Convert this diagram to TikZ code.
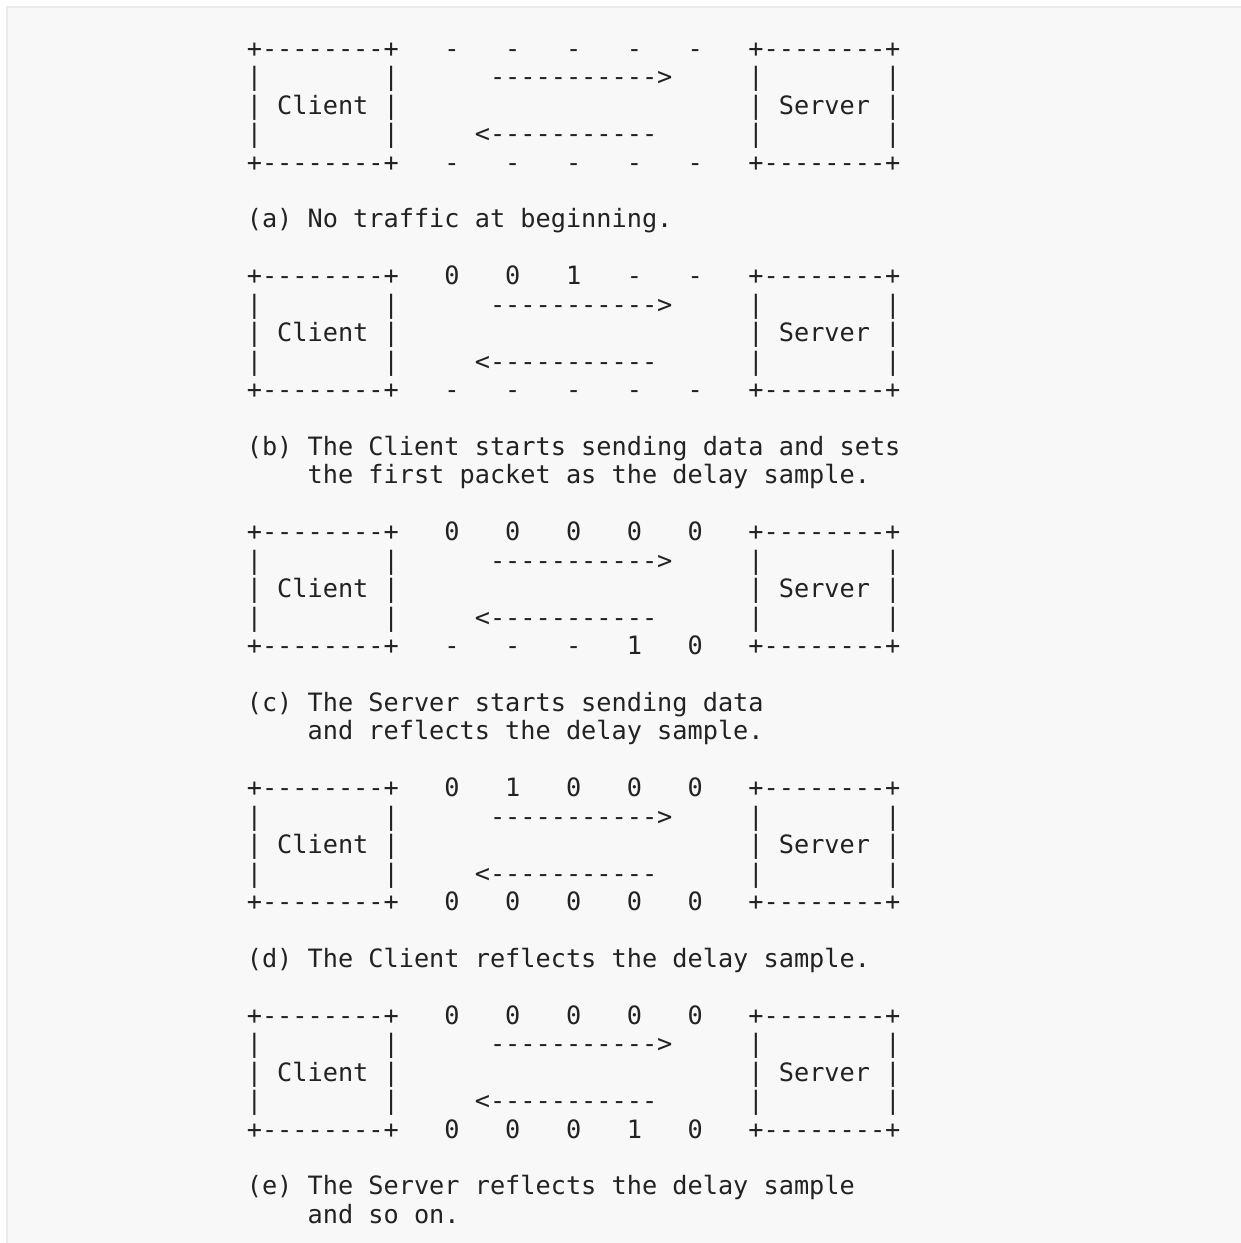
\documentclass[tikz,border=0pt]{standalone}
\usepackage{fontspec}
\setmonofont{DejaVu Sans Mono}
\definecolor{ink}{HTML}{222222}
\definecolor{panel}{HTML}{F8F8F8}
\definecolor{panelborder}{HTML}{EBEBEB}
\newcommand\asciirow[4]{\node[ascii] (#1) at ({246.8+#3*15.2},{57.3+#2*28.44}) {#4};}
\begin{document}
\begin{tikzpicture}[x=1pt,y=-1pt,
  ascii/.style={anchor=base west, inner sep=0pt, outer sep=0pt, text=ink,
    font=\ttfamily\fontsize{25.25}{28.44}\selectfont}]
\useasboundingbox (0,0) rectangle (1241,1243);
\fill[white] (0,0) rectangle (1241,1243);
\draw[panelborder, line width=2pt, fill=panel] (7,7) rectangle (1260,1260);
\frenchspacing
% (a)
\asciirow{a0}{0}{0}{+--------+~~~-~~~-~~~-~~~-~~~-~~~+--------+}
\asciirow{a1}{1}{0}{|~~~~~~~~|~~~~~~----------->~~~~~|~~~~~~~~|}
\asciirow{a2}{2}{0}{|~Client~|~~~~~~~~~~~~~~~~~~~~~~~|~Server~|}
\asciirow{a3}{3}{0}{|~~~~~~~~|~~~~~<-----------~~~~~~|~~~~~~~~|}
\asciirow{a4}{4}{0}{+--------+~~~-~~~-~~~-~~~-~~~-~~~+--------+}
\asciirow{ac}{6}{0}{(a)~No~traffic~at~beginning.}
% (b)
\asciirow{b0}{8}{0}{+--------+~~~0~~~0~~~1~~~-~~~-~~~+--------+}
\asciirow{b1}{9}{0}{|~~~~~~~~|~~~~~~----------->~~~~~|~~~~~~~~|}
\asciirow{b2}{10}{0}{|~Client~|~~~~~~~~~~~~~~~~~~~~~~~|~Server~|}
\asciirow{b3}{11}{0}{|~~~~~~~~|~~~~~<-----------~~~~~~|~~~~~~~~|}
\asciirow{b4}{12}{0}{+--------+~~~-~~~-~~~-~~~-~~~-~~~+--------+}
\asciirow{bc}{14}{0}{(b)~The~Client~starts~sending~data~and~sets}
\asciirow{bd}{15}{4}{the~first~packet~as~the~delay~sample.}
% (c)
\asciirow{c0}{17}{0}{+--------+~~~0~~~0~~~0~~~0~~~0~~~+--------+}
\asciirow{c1}{18}{0}{|~~~~~~~~|~~~~~~----------->~~~~~|~~~~~~~~|}
\asciirow{c2}{19}{0}{|~Client~|~~~~~~~~~~~~~~~~~~~~~~~|~Server~|}
\asciirow{c3}{20}{0}{|~~~~~~~~|~~~~~<-----------~~~~~~|~~~~~~~~|}
\asciirow{c4}{21}{0}{+--------+~~~-~~~-~~~-~~~1~~~0~~~+--------+}
\asciirow{cc}{23}{0}{(c)~The~Server~starts~sending~data}
\asciirow{cd}{24}{4}{and~reflects~the~delay~sample.}
% (d)
\asciirow{d0}{26}{0}{+--------+~~~0~~~1~~~0~~~0~~~0~~~+--------+}
\asciirow{d1}{27}{0}{|~~~~~~~~|~~~~~~----------->~~~~~|~~~~~~~~|}
\asciirow{d2}{28}{0}{|~Client~|~~~~~~~~~~~~~~~~~~~~~~~|~Server~|}
\asciirow{d3}{29}{0}{|~~~~~~~~|~~~~~<-----------~~~~~~|~~~~~~~~|}
\asciirow{d4}{30}{0}{+--------+~~~0~~~0~~~0~~~0~~~0~~~+--------+}
\asciirow{dc}{32}{0}{(d)~The~Client~reflects~the~delay~sample.}
% (e)
\asciirow{e0}{34}{0}{+--------+~~~0~~~0~~~0~~~0~~~0~~~+--------+}
\asciirow{e1}{35}{0}{|~~~~~~~~|~~~~~~----------->~~~~~|~~~~~~~~|}
\asciirow{e2}{36}{0}{|~Client~|~~~~~~~~~~~~~~~~~~~~~~~|~Server~|}
\asciirow{e3}{37}{0}{|~~~~~~~~|~~~~~<-----------~~~~~~|~~~~~~~~|}
\asciirow{e4}{38}{0}{+--------+~~~0~~~0~~~0~~~1~~~0~~~+--------+}
\asciirow{ec}{40}{0}{(e)~The~Server~reflects~the~delay~sample}
\asciirow{ed}{41}{4}{and~so~on.}
\end{tikzpicture}
\end{document}
